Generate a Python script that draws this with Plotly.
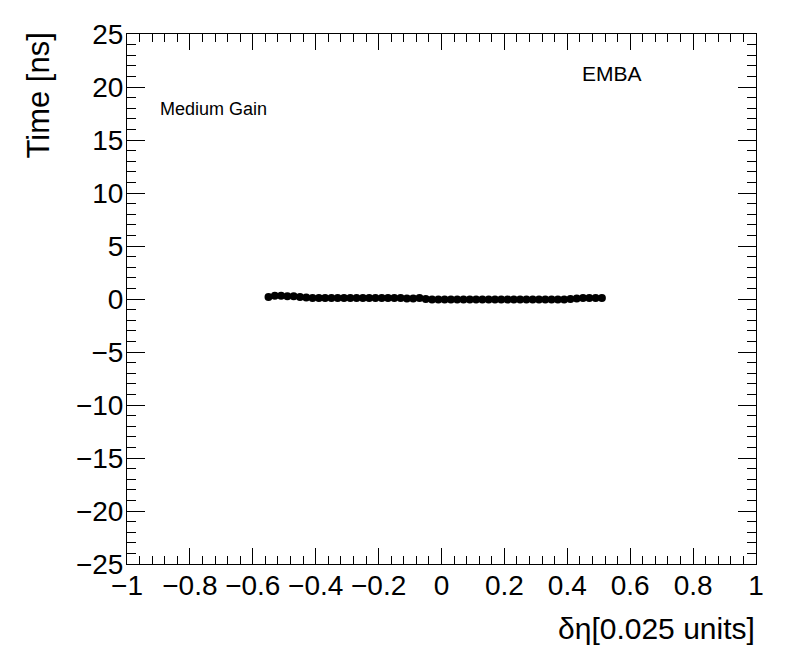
import plotly.graph_objects as go

# Data
deta = [-0.55, -0.53, -0.51, -0.49, -0.47, -0.45, -0.43, -0.41, -0.39, -0.37,
        -0.35, -0.33, -0.31, -0.29, -0.27, -0.25, -0.23, -0.21, -0.19, -0.17,
        -0.15, -0.13, -0.11, -0.09, -0.07, -0.05, -0.03, -0.01, 0.01, 0.03,
        0.05, 0.07, 0.09, 0.11, 0.13, 0.15, 0.17, 0.19, 0.21, 0.23,
        0.25, 0.27, 0.29, 0.31, 0.33, 0.35, 0.37, 0.39, 0.41, 0.43,
        0.45, 0.47, 0.49, 0.51]
time_ns = [0.2, 0.3, 0.3, 0.25, 0.25, 0.2, 0.15, 0.1, 0.1, 0.1,
           0.1, 0.1, 0.1, 0.1, 0.1, 0.1, 0.1, 0.1, 0.1, 0.1,
           0.1, 0.1, 0.05, 0.05, 0.1, 0.0, -0.05, -0.05, -0.05, -0.05,
           -0.05, -0.05, -0.05, -0.05, -0.05, -0.05, -0.05, -0.05, -0.05, -0.05,
           -0.05, -0.05, -0.05, -0.05, -0.05, -0.05, -0.05, -0.05, 0.0, 0.05,
           0.1, 0.1, 0.1, 0.1]

x_tickvals = [-1, -0.8, -0.6, -0.4, -0.2, 0, 0.2, 0.4, 0.6, 0.8, 1]
x_ticktext = ["\u22121", "\u22120.8", "\u22120.6", "\u22120.4", "\u22120.2", "0",
              "0.2", "0.4", "0.6", "0.8", "1"]
y_tickvals = [-25, -20, -15, -10, -5, 0, 5, 10, 15, 20, 25]
y_ticktext = ["\u221225", "\u221220", "\u221215", "\u221210", "\u22125", "0",
              "5", "10", "15", "20", "25"]

FONT = "Liberation Sans, Arial, Helvetica, sans-serif"

fig = go.Figure()
fig.add_trace(go.Scatter(
    x=deta, y=time_ns, mode="markers",
    marker=dict(color="black", size=8, symbol="circle"),
    showlegend=False,
))

axis_common = dict(
    showgrid=False, zeroline=False, showline=True, linecolor="black",
    linewidth=1, mirror="allticks", ticks="inside", tickcolor="black",
    tickfont=dict(family=FONT, size=28, color="black"),
)

fig.update_xaxes(
    range=[-1, 1], tickvals=x_tickvals, ticktext=x_ticktext, ticklen=16,
    ticklabelstandoff=-4,
    minor=dict(dtick=0.04, ticks="inside", ticklen=8, tickcolor="black", showgrid=False),
    **axis_common,
)
fig.update_yaxes(
    range=[-25, 25], tickvals=y_tickvals, ticktext=y_ticktext, ticklen=18,
    ticklabelstandoff=-3,
    minor=dict(dtick=1, ticks="inside", ticklen=9, tickcolor="black", showgrid=False),
    **axis_common,
)

fig.update_layout(
    width=788, height=664,
    margin=dict(l=119, r=40, t=26, b=108),
    paper_bgcolor="white", plot_bgcolor="white",
    font=dict(family=FONT, color="black"),
    annotations=[
        dict(text="Time [ns]", x=-0.1407, y=1.0075, xref="paper", yref="paper",
             xanchor="center", yanchor="top", textangle=-90, showarrow=False,
             font=dict(family=FONT, size=31, color="black")),
        dict(text="\u03b4\u03b7[0.025 units]", x=1.0016, y=-0.1208, xref="paper", yref="paper",
             xanchor="right", yanchor="middle", showarrow=False,
             font=dict(family=FONT, size=30, color="black")),
        dict(text="Medium Gain", x=0.049, y=0.8585, xref="paper", yref="paper",
             xanchor="left", yanchor="middle", showarrow=False,
             font=dict(family=FONT, size=18, color="black")),
        dict(text="EMBA", x=0.72, y=0.926, xref="paper", yref="paper",
             xanchor="left", yanchor="middle", showarrow=False,
             font=dict(family=FONT, size=21, color="black")),
    ],
)

fig.write_html("out.html")
